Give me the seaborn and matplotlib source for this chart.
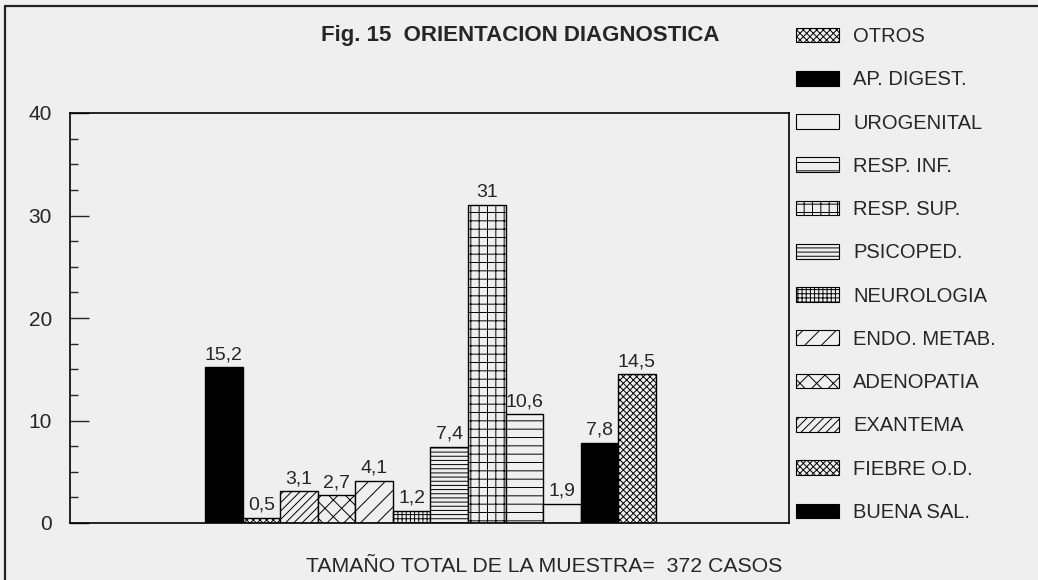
import matplotlib
matplotlib.use("Agg")
import matplotlib.pyplot as plt
import seaborn as sns
import pandas as pd
from matplotlib.patches import Patch
from matplotlib.lines import Line2D

categories = ["BUENA SAL.", "FIEBRE O.D.", "EXANTEMA", "ADENOPATIA", "ENDO. METAB.",
              "NEUROLOGIA", "PSICOPED.", "RESP. SUP.", "RESP. INF.", "UROGENITAL",
              "AP. DIGEST.", "OTROS"]
values = [15.2, 0.5, 3.1, 2.7, 4.1, 1.2, 7.4, 31, 10.6, 1.9, 7.8, 14.5]
value_labels = ["15,2", "0,5", "3,1", "2,7", "4,1", "1,2", "7,4", "31", "10,6", "1,9", "7,8", "14,5"]
y_ticks = [0, 10, 20, 30, 40]

title = "Fig. 15  ORIENTACION DIAGNOSTICA"
footer = "TAMAÑO TOTAL DE LA MUESTRA=  372 CASOS"

BG = "#efefef"
fills = {"BUENA SAL.": "black", "AP. DIGEST.": "black"}
hatches = {"FIEBRE O.D.": "xxxxx", "EXANTEMA": "////", "ADENOPATIA": "xx",
           "ENDO. METAB.": "//", "NEUROLOGIA": "++++", "PSICOPED.": "----",
           "RESP. SUP.": "++", "RESP. INF.": "--", "UROGENITAL": "",
           "OTROS": "xxxxx", "BUENA SAL.": "", "AP. DIGEST.": ""}

sns.set_theme(style="white")
plt.rcParams["font.family"] = ["Liberation Sans", "DejaVu Sans"]
plt.rcParams["hatch.linewidth"] = 0.7
plt.rcParams["hatch.color"] = "black"

fig = plt.figure(figsize=(10.38, 5.8), dpi=100, facecolor=BG)
ax = fig.add_axes([70/1038, 1-523/580, (789-70)/1038, (523-113)/580])
ax.set_facecolor(BG)

df = pd.DataFrame({"cat": categories, "val": values})
sns.barplot(data=df, x="cat", y="val", order=categories, width=1.0,
            color="white", edgecolor="black", linewidth=1.0, ax=ax,
            saturation=1)

for patch, cat in zip(ax.patches, categories):
    patch.set_facecolor(fills.get(cat, BG))
    patch.set_hatch(hatches[cat])
    patch.set_edgecolor("black")

ax.bar_label(ax.containers[0], labels=value_labels, padding=3, fontsize=14)

ax.set_xlim(-4.1, 15.05)
ax.set_ylim(0, 40)
ax.set_xticks([])
ax.set_xlabel("")
ax.set_ylabel("")
ax.set_yticks(y_ticks)
ax.set_yticks([v for v in [i * 2.5 for i in range(17)] if v not in y_ticks], minor=True)
ax.tick_params(axis="y", which="major", direction="in", length=13.5, width=1.0,
               pad=13, labelsize=15, left=True)
ax.tick_params(axis="y", which="minor", direction="in", length=5.5, width=1.0, left=True)
for s in ax.spines.values():
    s.set_visible(True)
    s.set_color("black")
    s.set_linewidth(1.2)

# legend
handles = []
for cat in categories[::-1]:
    handles.append(Patch(facecolor=fills.get(cat, BG), hatch=hatches[cat],
                         edgecolor="black", linewidth=0.8, label=cat))
leg = fig.legend(handles=handles, loc="upper left",
                 bbox_to_anchor=(796/1038, 1-27/580), frameon=False,
                 fontsize=14.5, handlelength=2.14, handleheight=0.75,
                 labelspacing=1.205, handletextpad=0.7, borderpad=0, borderaxespad=0)

fig.text(520/1038, 1-35/580, title, ha="center", va="center", fontsize=16,
         fontweight="bold")
fig.text(544/1038, 1-567/580, footer, ha="center", va="center", fontsize=15.3)

fig.add_artist(Line2D([5/1038, 1], [1-6/580, 1-6/580], color="#222222", lw=1.6,
                      transform=fig.transFigure))
fig.add_artist(Line2D([5/1038, 5/1038], [0, 1-6/580], color="#222222", lw=1.6,
                      transform=fig.transFigure))

fig.savefig("out.png", dpi=100, facecolor=BG)
